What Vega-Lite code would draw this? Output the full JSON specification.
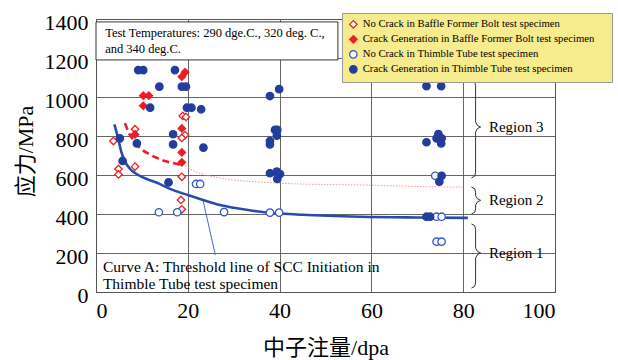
{
  "$schema": "https://vega.github.io/schema/vega-lite/v6.json",
  "width": 459,
  "height": 273,
  "autosize": {"type": "none"},
  "padding": {"left": 96, "top": 19, "right": 63, "bottom": 68},
  "background": "white",
  "config": {
    "view": {"stroke": "#555555", "strokeWidth": 1},
    "font": "Liberation Serif",
    "axis": {
      "gridColor": "#555555", "gridWidth": 0.9, "gridOpacity": 1,
      "domain": false, "ticks": false, "labelOverlap": false,
      "labelFont": "Liberation Serif", "labelFontSize": 22, "labelColor": "#000000",
      "titleFont": "Liberation Serif, Noto Sans CJK SC", "titleFontSize": 22,
      "titleFontWeight": "normal", "titleColor": "#000000"
    },
    "legend": {
      "orient": "none", "legendX": 246, "legendY": -6,
      "fillColor": "#f6ec8e", "strokeColor": "#9a9a9a",
      "padding": 6, "labelFont": "Liberation Serif", "labelFontSize": 10.7,
      "labelColor": "#000000", "symbolSize": 55, "symbolStrokeWidth": 1.3,
      "rowPadding": 2, "labelOffset": 4, "labelLimit": 400,
      "titleOrient": "right", "titlePadding": 12, "titleFontSize": 4
    }
  },
  "datasets": {
    "points": [
      {"x": 3.8, "y": 774, "series": "No Crack in Baffle Former Bolt test specimen"},
      {"x": 4.9, "y": 631, "series": "No Crack in Baffle Former Bolt test specimen"},
      {"x": 4.9, "y": 603, "series": "No Crack in Baffle Former Bolt test specimen"},
      {"x": 8.5, "y": 835, "series": "No Crack in Baffle Former Bolt test specimen"},
      {"x": 8.5, "y": 643, "series": "No Crack in Baffle Former Bolt test specimen"},
      {"x": 18.9, "y": 903, "series": "No Crack in Baffle Former Bolt test specimen"},
      {"x": 19.6, "y": 898, "series": "No Crack in Baffle Former Bolt test specimen"},
      {"x": 19.4, "y": 805, "series": "No Crack in Baffle Former Bolt test specimen"},
      {"x": 18.7, "y": 790, "series": "No Crack in Baffle Former Bolt test specimen"},
      {"x": 18.7, "y": 591, "series": "No Crack in Baffle Former Bolt test specimen"},
      {"x": 18.5, "y": 472, "series": "No Crack in Baffle Former Bolt test specimen"},
      {"x": 18.7, "y": 424, "series": "No Crack in Baffle Former Bolt test specimen"},
      {"x": 18.7, "y": 1104, "series": "Crack Generation in Baffle Former Bolt test specimen"},
      {"x": 19.4, "y": 1127, "series": "Crack Generation in Baffle Former Bolt test specimen"},
      {"x": 10.3, "y": 1007, "series": "Crack Generation in Baffle Former Bolt test specimen"},
      {"x": 11.5, "y": 1007, "series": "Crack Generation in Baffle Former Bolt test specimen"},
      {"x": 10.3, "y": 955, "series": "Crack Generation in Baffle Former Bolt test specimen"},
      {"x": 8.5, "y": 808, "series": "Crack Generation in Baffle Former Bolt test specimen"},
      {"x": 18.7, "y": 839, "series": "Crack Generation in Baffle Former Bolt test specimen"},
      {"x": 18.7, "y": 716, "series": "Crack Generation in Baffle Former Bolt test specimen"},
      {"x": 18.7, "y": 665, "series": "Crack Generation in Baffle Former Bolt test specimen"},
      {"x": 13.7, "y": 409, "series": "No Crack in Thimble Tube test specimen"},
      {"x": 17.7, "y": 409, "series": "No Crack in Thimble Tube test specimen"},
      {"x": 21.8, "y": 554, "series": "No Crack in Thimble Tube test specimen"},
      {"x": 22.7, "y": 554, "series": "No Crack in Thimble Tube test specimen"},
      {"x": 27.9, "y": 410, "series": "No Crack in Thimble Tube test specimen"},
      {"x": 37.9, "y": 407, "series": "No Crack in Thimble Tube test specimen"},
      {"x": 39.9, "y": 407, "series": "No Crack in Thimble Tube test specimen"},
      {"x": 74.2, "y": 386, "series": "No Crack in Thimble Tube test specimen"},
      {"x": 75.3, "y": 386, "series": "No Crack in Thimble Tube test specimen"},
      {"x": 74.2, "y": 258, "series": "No Crack in Thimble Tube test specimen"},
      {"x": 75.3, "y": 258, "series": "No Crack in Thimble Tube test specimen"},
      {"x": 73.9, "y": 596, "series": "No Crack in Thimble Tube test specimen"},
      {"x": 9.2, "y": 1138, "series": "Crack Generation in Thimble Tube test specimen"},
      {"x": 10.3, "y": 1138, "series": "Crack Generation in Thimble Tube test specimen"},
      {"x": 17.2, "y": 1138, "series": "Crack Generation in Thimble Tube test specimen"},
      {"x": 13.8, "y": 1053, "series": "Crack Generation in Thimble Tube test specimen"},
      {"x": 18.7, "y": 1053, "series": "Crack Generation in Thimble Tube test specimen"},
      {"x": 19.6, "y": 1053, "series": "Crack Generation in Thimble Tube test specimen"},
      {"x": 11.8, "y": 945, "series": "Crack Generation in Thimble Tube test specimen"},
      {"x": 19.8, "y": 945, "series": "Crack Generation in Thimble Tube test specimen"},
      {"x": 20.8, "y": 945, "series": "Crack Generation in Thimble Tube test specimen"},
      {"x": 22.9, "y": 937, "series": "Crack Generation in Thimble Tube test specimen"},
      {"x": 5.2, "y": 788, "series": "Crack Generation in Thimble Tube test specimen"},
      {"x": 16.8, "y": 809, "series": "Crack Generation in Thimble Tube test specimen"},
      {"x": 8.9, "y": 762, "series": "Crack Generation in Thimble Tube test specimen"},
      {"x": 16.8, "y": 757, "series": "Crack Generation in Thimble Tube test specimen"},
      {"x": 23.4, "y": 740, "series": "Crack Generation in Thimble Tube test specimen"},
      {"x": 5.8, "y": 672, "series": "Crack Generation in Thimble Tube test specimen"},
      {"x": 15.8, "y": 562, "series": "Crack Generation in Thimble Tube test specimen"},
      {"x": 37.9, "y": 1005, "series": "Crack Generation in Thimble Tube test specimen"},
      {"x": 39.9, "y": 1040, "series": "Crack Generation in Thimble Tube test specimen"},
      {"x": 39.0, "y": 831, "series": "Crack Generation in Thimble Tube test specimen"},
      {"x": 39.5, "y": 831, "series": "Crack Generation in Thimble Tube test specimen"},
      {"x": 39.4, "y": 802, "series": "Crack Generation in Thimble Tube test specimen"},
      {"x": 37.9, "y": 774, "series": "Crack Generation in Thimble Tube test specimen"},
      {"x": 37.9, "y": 757, "series": "Crack Generation in Thimble Tube test specimen"},
      {"x": 37.9, "y": 609, "series": "Crack Generation in Thimble Tube test specimen"},
      {"x": 39.4, "y": 617, "series": "Crack Generation in Thimble Tube test specimen"},
      {"x": 40.1, "y": 605, "series": "Crack Generation in Thimble Tube test specimen"},
      {"x": 39.5, "y": 580, "series": "Crack Generation in Thimble Tube test specimen"},
      {"x": 72.0, "y": 1056, "series": "Crack Generation in Thimble Tube test specimen"},
      {"x": 75.2, "y": 1056, "series": "Crack Generation in Thimble Tube test specimen"},
      {"x": 72.0, "y": 768, "series": "Crack Generation in Thimble Tube test specimen"},
      {"x": 74.6, "y": 810, "series": "Crack Generation in Thimble Tube test specimen"},
      {"x": 74.2, "y": 788, "series": "Crack Generation in Thimble Tube test specimen"},
      {"x": 75.3, "y": 788, "series": "Crack Generation in Thimble Tube test specimen"},
      {"x": 75.2, "y": 762, "series": "Crack Generation in Thimble Tube test specimen"},
      {"x": 75.3, "y": 596, "series": "Crack Generation in Thimble Tube test specimen"},
      {"x": 74.8, "y": 566, "series": "Crack Generation in Thimble Tube test specimen"},
      {"x": 72.0, "y": 386, "series": "Crack Generation in Thimble Tube test specimen"},
      {"x": 72.8, "y": 386, "series": "Crack Generation in Thimble Tube test specimen"}
    ],
    "curveA": [
      {"x": 4.0, "y": 860}, {"x": 4.8, "y": 790}, {"x": 5.5, "y": 720}, {"x": 6.3, "y": 670},
      {"x": 7.4, "y": 632}, {"x": 8.5, "y": 610}, {"x": 10, "y": 590}, {"x": 13.3, "y": 560},
      {"x": 16, "y": 530}, {"x": 20, "y": 497}, {"x": 23.3, "y": 472}, {"x": 27, "y": 446},
      {"x": 30, "y": 432}, {"x": 35, "y": 414}, {"x": 38.6, "y": 405}, {"x": 45, "y": 396},
      {"x": 57.5, "y": 386}, {"x": 70, "y": 382}, {"x": 81, "y": 380}
    ],
    "redDash": [
      {"x": 6.3, "y": 866}, {"x": 7.3, "y": 810}, {"x": 8.5, "y": 768}, {"x": 9.6, "y": 738},
      {"x": 11.5, "y": 708}, {"x": 13.3, "y": 687}, {"x": 15, "y": 672}, {"x": 16.8, "y": 661},
      {"x": 18.5, "y": 652}
    ],
    "redDot": [
      {"x": 19.5, "y": 645}, {"x": 21, "y": 625}, {"x": 23, "y": 605}, {"x": 26, "y": 590},
      {"x": 30, "y": 574}, {"x": 35, "y": 565}, {"x": 40, "y": 558}, {"x": 50, "y": 551},
      {"x": 57.5, "y": 549}, {"x": 65, "y": 544}, {"x": 72, "y": 540}, {"x": 80, "y": 538}
    ],
    "leader": [{"x": 23.3, "y": 472}, {"x": 26, "y": 190}],
    "braces": [
      {"r": 3, "i": 1, "x": 81.8, "y": 1087}, {"r": 3, "i": 2, "x": 82.5, "y": 1078}, {"r": 3, "i": 3, "x": 82.7, "y": 1060},
      {"r": 3, "i": 4, "x": 82.7, "y": 872}, {"r": 3, "i": 5, "x": 83.1, "y": 854}, {"r": 3, "i": 6, "x": 83.8, "y": 846},
      {"r": 3, "i": 7, "x": 83.1, "y": 838}, {"r": 3, "i": 8, "x": 82.7, "y": 820}, {"r": 3, "i": 9, "x": 82.7, "y": 612},
      {"r": 3, "i": 10, "x": 82.5, "y": 594}, {"r": 3, "i": 11, "x": 81.8, "y": 585},
      {"r": 2, "i": 1, "x": 81.8, "y": 538}, {"r": 2, "i": 2, "x": 82.5, "y": 529}, {"r": 2, "i": 3, "x": 82.7, "y": 512},
      {"r": 2, "i": 4, "x": 82.7, "y": 494}, {"r": 2, "i": 5, "x": 83.1, "y": 478}, {"r": 2, "i": 6, "x": 83.8, "y": 470},
      {"r": 2, "i": 7, "x": 83.1, "y": 462}, {"r": 2, "i": 8, "x": 82.7, "y": 446}, {"r": 2, "i": 9, "x": 82.7, "y": 426},
      {"r": 2, "i": 10, "x": 82.5, "y": 409}, {"r": 2, "i": 11, "x": 81.8, "y": 400},
      {"r": 1, "i": 1, "x": 81.8, "y": 349}, {"r": 1, "i": 2, "x": 82.5, "y": 340}, {"r": 1, "i": 3, "x": 82.7, "y": 322},
      {"r": 1, "i": 4, "x": 82.7, "y": 226}, {"r": 1, "i": 5, "x": 83.1, "y": 208}, {"r": 1, "i": 6, "x": 83.8, "y": 200},
      {"r": 1, "i": 7, "x": 83.1, "y": 192}, {"r": 1, "i": 8, "x": 82.7, "y": 174}, {"r": 1, "i": 9, "x": 82.7, "y": 46},
      {"r": 1, "i": 10, "x": 82.5, "y": 29}, {"r": 1, "i": 11, "x": 81.8, "y": 20}
    ],
    "regions": [
      {"label": "Region 3", "y": 846},
      {"label": "Region 2", "y": 470},
      {"label": "Region 1", "y": 200}
    ]
  },
  "layer": [
    {
      "data": {"name": "points"},
      "mark": {"type": "point", "size": 50, "opacity": 0},
      "encoding": {
        "x": {"field": "x", "type": "quantitative", "scale": {"domain": [0, 100], "nice": false},
              "axis": {"values": [0, 20, 40, 60, 80, 100], "grid": true, "title": "中子注量/dpa", "format": "d",
                       "labelPadding": 8, "titleY": 55, "titleBaseline": "middle"}},
        "y": {"field": "y", "type": "quantitative", "scale": {"domain": [0, 1400], "nice": false},
              "axis": {"values": [0, 200, 400, 600, 800, 1000, 1200, 1400], "tickCount": 8, "grid": true, "title": "应力/MPa", "format": "d",
                       "labelPadding": 8, "labelOffset": 3, "titleX": -71, "titleY": 132,
                       "titleAngle": -90, "titleAlign": "center", "titleBaseline": "middle"}}
      }
    },
    {
      "data": {"values": [{}]},
      "mark": {"type": "rect", "fill": "white", "stroke": "#333333", "strokeWidth": 1},
      "encoding": {
        "x": {"datum": 0, "type": "quantitative"},
        "x2": {"datum": 52.7},
        "y": {"datum": 1385, "type": "quantitative"},
        "y2": {"datum": 1190}
      }
    },
    {
      "data": {"name": "redDot"},
      "mark": {"type": "line", "color": "#f29a9a", "strokeWidth": 1, "strokeDash": [1.5, 1.5], "interpolate": "monotone"},
      "encoding": {
        "x": {"field": "x", "type": "quantitative"},
        "y": {"field": "y", "type": "quantitative"}
      }
    },
    {
      "data": {"name": "redDash"},
      "mark": {"type": "line", "color": "#ee1d23", "strokeWidth": 2.6, "strokeDash": [7, 4], "interpolate": "monotone"},
      "encoding": {
        "x": {"field": "x", "type": "quantitative"},
        "y": {"field": "y", "type": "quantitative"}
      }
    },
    {
      "data": {"name": "leader"},
      "mark": {"type": "line", "color": "#4a68c4", "strokeWidth": 1},
      "encoding": {
        "x": {"field": "x", "type": "quantitative"},
        "y": {"field": "y", "type": "quantitative"}
      }
    },
    {
      "data": {"name": "curveA"},
      "mark": {"type": "line", "color": "#2a4bab", "strokeWidth": 2.6, "interpolate": "monotone"},
      "encoding": {
        "x": {"field": "x", "type": "quantitative"},
        "y": {"field": "y", "type": "quantitative"}
      }
    },
    {
      "data": {"name": "braces"},
      "mark": {"type": "line", "color": "#333333", "strokeWidth": 1},
      "encoding": {
        "x": {"field": "x", "type": "quantitative"},
        "y": {"field": "y", "type": "quantitative"},
        "detail": {"field": "r", "type": "nominal"},
        "order": {"field": "i", "type": "quantitative"}
      }
    },
    {
      "data": {"name": "points"},
      "mark": {"type": "point", "size": 55, "strokeWidth": 1.3, "opacity": 1},
      "encoding": {
        "x": {"field": "x", "type": "quantitative"},
        "y": {"field": "y", "type": "quantitative"},
        "shape": {"field": "series", "type": "nominal",
                  "scale": {"domain": ["No Crack in Baffle Former Bolt test specimen", "Crack Generation in Baffle Former Bolt test specimen", "No Crack in Thimble Tube test specimen", "Crack Generation in Thimble Tube test specimen"],
                            "range": ["diamond", "diamond", "circle", "circle"]},
                  "legend": {"title": "\u00a0"}},
        "stroke": {"field": "series", "type": "nominal",
                   "scale": {"domain": ["No Crack in Baffle Former Bolt test specimen", "Crack Generation in Baffle Former Bolt test specimen", "No Crack in Thimble Tube test specimen", "Crack Generation in Thimble Tube test specimen"],
                             "range": ["#ee1d23", "#ee1d23", "#3558c2", "#243d9c"]},
                   "legend": {"title": "\u00a0"}},
        "fill": {"field": "series", "type": "nominal",
                 "scale": {"domain": ["No Crack in Baffle Former Bolt test specimen", "Crack Generation in Baffle Former Bolt test specimen", "No Crack in Thimble Tube test specimen", "Crack Generation in Thimble Tube test specimen"],
                           "range": ["#ffffff", "#ee1d23", "#ffffff", "#243d9c"]},
                 "legend": {"title": "\u00a0"}}
      }
    },
    {
      "data": {"values": [{}]},
      "mark": {"type": "text", "font": "Liberation Serif", "fontSize": 12.5, "align": "left", "baseline": "alphabetic", "lineBreak": "\n", "lineHeight": 16, "color": "#000000",
               "text": "Test Temperatures: 290 dge.C., 320 deg. C.,\nand 340 deg.C."},
      "encoding": {
        "x": {"datum": 2.0, "type": "quantitative"},
        "y": {"datum": 1306, "type": "quantitative"}
      }
    },
    {
      "data": {"values": [{}]},
      "mark": {"type": "text", "font": "Liberation Serif", "fontSize": 15.5, "align": "left", "baseline": "alphabetic", "lineBreak": "\n", "lineHeight": 16.5, "color": "#000000",
               "text": "Curve A: Threshold line of SCC Initiation in\nThimble Tube test specimen"},
      "encoding": {
        "x": {"datum": 1.5, "type": "quantitative"},
        "y": {"datum": 102, "type": "quantitative"}
      }
    },
    {
      "data": {"name": "regions"},
      "mark": {"type": "text", "font": "Liberation Serif", "fontSize": 15, "align": "left", "baseline": "middle", "color": "#000000"},
      "encoding": {
        "x": {"datum": 85.6, "type": "quantitative"},
        "y": {"field": "y", "type": "quantitative"},
        "text": {"field": "label"}
      }
    }
  ]
}
